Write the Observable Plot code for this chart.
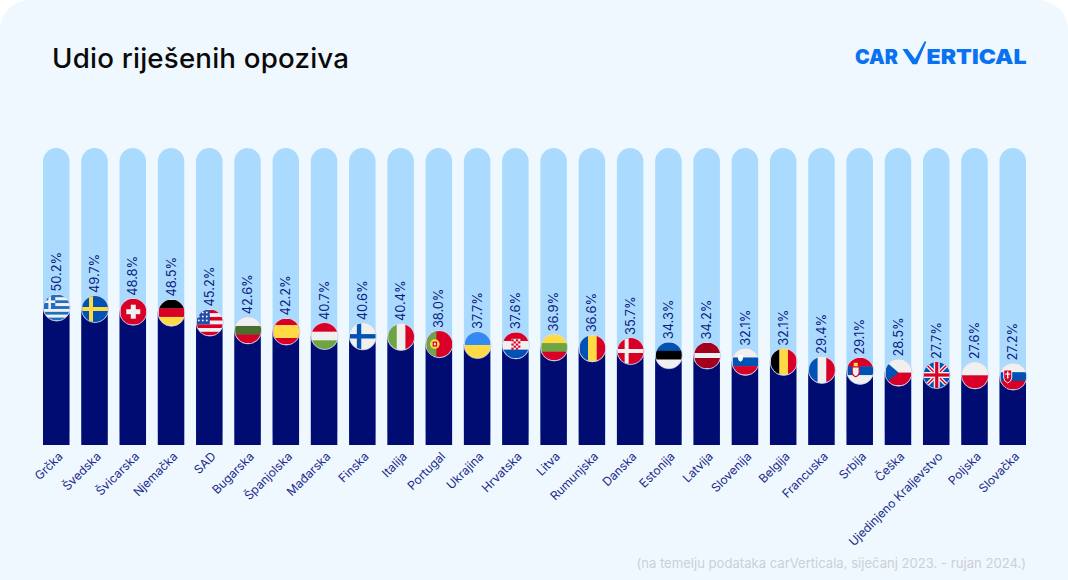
<!DOCTYPE html>
<html lang="hr">
<head>
<meta charset="utf-8">
<script src="https://cdn.jsdelivr.net/npm/d3@7"></script>
<script src="https://cdn.jsdelivr.net/npm/@observablehq/plot@0.6"></script>
<style>
html,body{margin:0;padding:0;background:#fff;}
#card{position:relative;width:1068px;height:580px;background:#f0f8ff;border-radius:30px 30px 0 0;overflow:hidden;font-family:Inter,sans-serif;}
#head{height:130px;position:relative;}
#title{position:absolute;left:52px;top:41px;font-size:27.7px;font-weight:500;line-height:34px;color:#0a0a0a;letter-spacing:.2px;}
#logo{position:absolute;left:855px;top:38px;}
#plot svg{display:block;}
#caption{position:absolute;right:42px;top:555px;font-size:13.1px;line-height:16px;color:#cbd0d5;}
</style>
</head>
<body>
<div id="card">
  <div id="head">
    <div id="title">Udio riješenih opoziva</div>
    <svg id="logo" width="176" height="32" viewBox="0 0 176 32">
      <text x="0" y="26.3" font-family="Inter,sans-serif" font-weight="900" font-size="20.8" fill="#0a72f0" textLength="43" lengthAdjust="spacingAndGlyphs">CAR</text>
      <path d="M47.500 11H52.500L60 21L69.500 3.500H71.500L62 26.300H57.500Z" fill="#0a72f0"/>
      <text x="71.500" y="26.3" font-family="Inter,sans-serif" font-weight="900" font-size="20.8" fill="#0a72f0" textLength="100" lengthAdjust="spacingAndGlyphs">ERTICAL</text>
    </svg>
  </div>
  <div id="plot"></div>
  <div id="caption">(na temelju podataka carVerticala, siječanj 2023. - rujan 2024.)</div>
</div>
<script>
const countries = ["Grčka","Švedska","Švicarska","Njemačka","SAD","Bugarska","Španjolska","Mađarska","Finska","Italija","Portugal","Ukrajina","Hrvatska","Litva","Rumunjska","Danska","Estonija","Latvija","Slovenija","Belgija","Francuska","Srbija","Češka","Ujedinjeno Kraljevstvo","Poljska","Slovačka"];
const values = [50.2,49.7,48.8,48.5,45.2,42.6,42.2,40.7,40.6,40.4,38.0,37.7,37.6,36.9,36.6,35.7,34.3,34.2,32.1,32.1,29.4,29.1,28.5,27.7,27.6,27.2];
const valueLabels = ["50.2%","49.7%","48.8%","48.5%","45.2%","42.6%","42.2%","40.7%","40.6%","40.4%","38.0%","37.7%","37.6%","36.9%","36.6%","35.7%","34.3%","34.2%","32.1%","32.1%","29.4%","29.1%","28.5%","27.7%","27.6%","27.2%"];
const yDomain = [4.2, 103.2];

// flag artwork, 26x26 units
const R = (x,y,w,h,f)=>`<rect x="${x}" y="${y}" width="${w}" height="${h}" fill="${f}"/>`;
const H3 = (a,b,c)=>R(0,0,26,9,a)+R(0,8.67,26,9,b)+R(0,17.33,26,8.67,c);
const V3 = (a,b,c)=>R(0,0,9,26,a)+R(8.67,0,9,26,b)+R(17.33,0,8.67,26,c);
const W="#f0f0f0", RED="#d80027", BLUE="#0052b4", YEL="#ffda44";
const flagArt = [
  /* GR */ [0,1,2,3,4,5,6,7,8].map(i=>R(0,i*26/9,26,26/9+.1,i%2?W:"#1f6fc0")).join("")+R(0,0,11.5,14.4,"#1f6fc0")+R(4.6,0,2.6,14.4,W)+R(0,5.9,11.5,2.6,W),
  /* SE */ R(0,0,26,26,"#0052b4")+R(7,0,4,26,YEL)+R(0,11,26,4,YEL),
  /* CH */ R(0,0,26,26,RED)+R(10.5,6,5,14,W)+R(6,10.5,14,5,W),
  /* DE */ H3("#000",RED,YEL),
  /* US */ [0,1,2,3,4,5,6].map(i=>R(0,i*26/7,26,26/7+.1,i%2?W:RED)).join("")+R(0,0,13,14.8,"#1f4fa8")+[2,6,10].flatMap(x=>[3,7,11].map(y=>`<circle cx="${x}" cy="${y}" r=".9" fill="#fff"/>`)).join(""),
  /* BG */ H3(W,"#496e2d",RED),
  /* ES */ R(0,0,26,26,RED)+R(0,6.5,26,13,YEL),
  /* HU */ H3(RED,W,"#6da544"),
  /* FI */ R(0,0,26,26,W)+R(7,0,4.4,26,"#0052b4")+R(0,10.8,26,4.4,"#0052b4"),
  /* IT */ V3("#6da544",W,RED),
  /* PT */ R(0,0,26,26,RED)+R(0,0,10,26,"#6da544")+`<circle cx="8.500" cy="13" r="4.800" fill="${YEL}"/>`+R(6.300,10.500,4.400,5,RED)+R(7.500,11.800,2,2.400,W),
  /* UA */ R(0,0,26,13,"#338af3")+R(0,13,26,13,YEL),
  /* HR */ H3(RED,W,"#0052b4")+R(8.5,6.5,9,10,W)+[0,1,2,3,4].flatMap(r=>[0,1,2,3].map(c=>(r+c)%2?"":R(8.5+c*2.25,7+r*2.1,2.25,2.1,RED))).join(""),
  /* LT */ H3(YEL,"#6da544",RED),
  /* RO */ V3("#0052b4",YEL,RED),
  /* DK */ R(0,0,26,26,RED)+R(7,0,4,26,W)+R(0,11,26,4,W),
  /* EE */ H3("#0052b4","#000",W),
  /* LV */ R(0,0,26,26,"#a2001d")+R(0,10.5,26,5,W),
  /* SI */ H3(W,"#0052b4",RED)+`<path d="M5.500 6h5v4q-.3 2.200-2.500 3-2.200-.8-2.500-3z" fill="#fff"/>`,
  /* BE */ V3("#000",YEL,RED),
  /* FR */ V3("#0052b4",W,RED),
  /* RS */ H3(RED,"#0052b4",W)+`<path d="M5 9h7v6q-.3 2.800-3.500 4-3.200-1.200-3.500-4z" fill="${W}" stroke="${RED}" stroke-width="1.200"/>`+R(6.500,5,4,3.400,YEL),
  /* CZ */ R(0,0,26,13,W)+R(0,13,26,13,RED)+`<path d="M2 3.500 L13 13 L2 22.500 L0 22.500 L0 3.500z" fill="#0052b4"/>`,
  /* GB */ R(0,0,26,26,"#0052b4")+`<path d="M0 0L26 26M26 0L0 26" stroke="#f0f0f0" stroke-width="4"/><path d="M0 0L26 26M26 0L0 26" stroke="${RED}" stroke-width="1.3"/>`+R(10,0,6,26,W)+R(0,10,26,6,W)+R(11.4,0,3.2,26,RED)+R(0,11.4,26,3.2,RED),
  /* PL */ R(0,0,26,13,W)+R(0,13,26,13,RED),
  /* SK */ H3(W,"#0052b4",RED)+`<path d="M3.500 6.500h8v8q-.3 3.500-4 5-3.700-1.500-4-5z" fill="${RED}" stroke="#fff" stroke-width=".9"/>`+R(6.800,8,1.400,7,"#fff")+R(5,10,5,1.200,"#fff")
];
const flagHref = a => "data:image/svg+xml;charset=utf-8," + encodeURIComponent(`<svg xmlns="http://www.w3.org/2000/svg" width="104" height="104" viewBox="0 0 26 26">${a}</svg>`);

const rows = countries.map((c,i)=>({country:c,value:values[i],label:valueLabels[i],flag:flagHref(flagArt[i])}));

const NAVY = "#000c72";
const chart = Plot.plot({
  width:1068, height:440,
  marginLeft:0, marginRight:0, marginTop:0, marginBottom:125,
  style:{background:"transparent",fontFamily:"Inter,sans-serif"},
  x:{domain:countries, range:[43,1026], paddingInner:0.307, paddingOuter:0, align:0.5, round:false, label:null, axis:null},
  y:{domain:yDomain, range:[315,18], axis:null},
  marks:[
    Plot.barY(rows,{x:"country",y1:yDomain[0],y2:yDomain[1],fill:"#aadbff",r:13.25}),
    Plot.barY(rows,{x:"country",y1:yDomain[0],y2:"value",fill:NAVY}),
    Plot.axisX({domain:countries,anchor:"bottom",tickSize:0,tickPadding:9,tickRotate:-45,dx:4,label:null,fontSize:12,color:"#1a2a8c",tickFormat:d=>d}),
    Plot.dot(rows,{x:"country",y:"value",r:13.6,fill:"#e6e6f2",stroke:"#c9cbe8",strokeWidth:0.7}),
    Plot.image(rows,{x:"country",y:"value",src:"flag",r:13}),
    Plot.text(rows,{x:"country",y:"value",text:"label",rotate:-90,textAnchor:"start",lineAnchor:"middle",dy:-16,fontSize:12.8,fill:"#0e1c80"})
  ]
});
document.getElementById("plot").appendChild(chart);
</script>
</body>
</html>
